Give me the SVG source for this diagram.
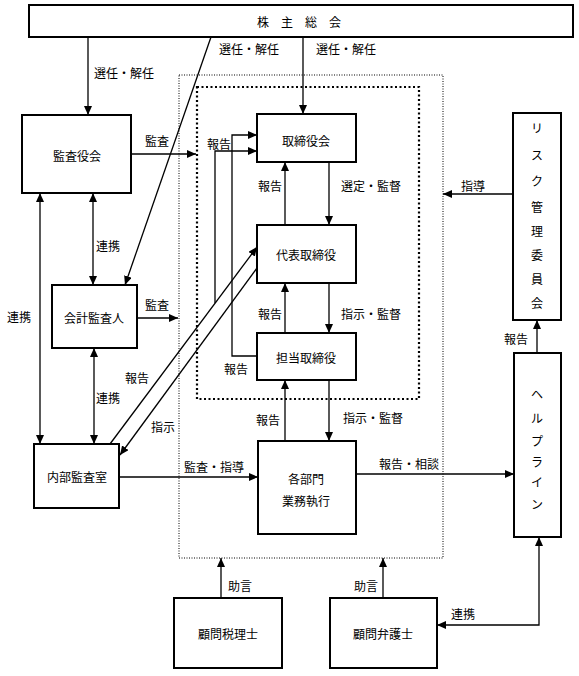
<svg xmlns="http://www.w3.org/2000/svg" width="579" height="676" viewBox="0 0 579 676">
<style>
  .box { fill: #fff; stroke: #000; stroke-width: 2; }
  .t { font-family: "Noto Sans CJK JP", "Noto Sans CJK SC", sans-serif; font-size: 12px; fill: #000; text-anchor: middle; dominant-baseline: central; }
  .c line, .c polyline { stroke: #000; stroke-width: 1.3; fill: none; }
  .a { marker-end: url(#ah); }
  .d { marker-start: url(#ahs); marker-end: url(#ah); }
</style>
<defs>
  <marker id="ah" markerUnits="userSpaceOnUse" markerWidth="10" markerHeight="8" refX="9" refY="4" orient="auto">
    <path d="M0,0 L9,4 L0,8 Z" fill="#000"/>
  </marker>
  <marker id="ahs" markerUnits="userSpaceOnUse" markerWidth="10" markerHeight="8" refX="9" refY="4" orient="auto-start-reverse">
    <path d="M0,0 L9,4 L0,8 Z" fill="#000"/>
  </marker>
</defs>
<rect width="579" height="676" fill="#fff"/>

<g id="scope">
  <rect x="179" y="75" width="264" height="483" fill="none" stroke="#000" stroke-width="1" stroke-dasharray="1,1.5"/>
  <rect x="197" y="87" width="222" height="312" fill="none" stroke="#000" stroke-width="2.2" stroke-dasharray="2,2.5"/>
</g>

<g class="c" id="connectors">
  <line class="a" x1="88" y1="37" x2="88" y2="115"/>
  <line class="a" x1="211" y1="37" x2="125" y2="285"/>
  <line class="a" x1="303" y1="37" x2="303" y2="114"/>
  <line class="a" x1="131" y1="154" x2="196" y2="154"/>
  <line class="d" x1="93" y1="193" x2="93" y2="285"/>
  <line class="a" x1="137" y1="318" x2="178" y2="318"/>
  <line class="d" x1="40" y1="193" x2="40" y2="444"/>
  <line class="d" x1="94" y1="348" x2="94" y2="444"/>
  <line class="a" x1="110" y1="444" x2="257" y2="247"/>
  <polyline class="a" points="215,303 215,151 257,151"/>
  <line class="a" x1="257" y1="268" x2="120" y2="455"/>
  <polyline class="a" points="257,356 232,356 232,135 257,135"/>
  <line class="a" x1="285" y1="225" x2="285" y2="162"/>
  <line class="a" x1="329" y1="162" x2="329" y2="225"/>
  <line class="a" x1="285" y1="333" x2="285" y2="283"/>
  <line class="a" x1="329" y1="283" x2="329" y2="333"/>
  <line class="a" x1="285" y1="441" x2="285" y2="380"/>
  <line class="a" x1="329" y1="380" x2="329" y2="441"/>
  <line class="a" x1="119" y1="477" x2="258" y2="477"/>
  <line class="a" x1="356" y1="474" x2="514" y2="474"/>
  <line class="a" x1="513" y1="194" x2="443" y2="194"/>
  <line class="a" x1="537" y1="353" x2="537" y2="320"/>
  <line class="a" x1="221" y1="598" x2="221" y2="558"/>
  <line class="a" x1="383" y1="598" x2="383" y2="558"/>
  <polyline class="d" points="539,537 539,625 437,625"/>
</g>

<g id="labels">
  <text class="t" x="124" y="72">選任・解任</text>
  <text class="t" x="249" y="48">選任・解任</text>
  <text class="t" x="346" y="48">選任・解任</text>
  <text class="t" x="157" y="140">監査</text>
  <text class="t" x="157" y="304">監査</text>
  <text class="t" x="108" y="245">連携</text>
  <text class="t" x="19" y="316">連携</text>
  <text class="t" x="108" y="397">連携</text>
  <text class="t" x="219" y="143">報告</text>
  <text class="t" x="236" y="368">報告</text>
  <text class="t" x="270" y="185">報告</text>
  <text class="t" x="270" y="313">報告</text>
  <text class="t" x="268" y="419">報告</text>
  <text class="t" x="137" y="377">報告</text>
  <text class="t" x="516" y="338">報告</text>
  <text class="t" x="163" y="426">指示</text>
  <text class="t" x="371" y="185">選定・監督</text>
  <text class="t" x="371" y="313">指示・監督</text>
  <text class="t" x="373" y="417">指示・監督</text>
  <text class="t" x="214" y="466">監査・指導</text>
  <text class="t" x="409" y="463">報告・相談</text>
  <text class="t" x="473" y="185">指導</text>
  <text class="t" x="240" y="585">助言</text>
  <text class="t" x="366" y="585">助言</text>
  <text class="t" x="463" y="613">連携</text>
</g>

<g id="shareholders">
  <rect class="box" x="29" y="5" width="544" height="32"/>
  <text class="t" x="305" y="21" letter-spacing="12">株主総会</text>
</g>
<g id="audit-board">
  <rect class="box" x="22" y="115" width="109" height="78"/>
  <text class="t" x="77" y="155">監査役会</text>
</g>
<g id="accounting-auditor">
  <rect class="box" x="52" y="285" width="85" height="63"/>
  <text class="t" x="94" y="317">会計監査人</text>
</g>
<g id="internal-audit">
  <rect class="box" x="34" y="444" width="85" height="64"/>
  <text class="t" x="77" y="476">内部監査室</text>
</g>
<g id="board">
  <rect class="box" x="257" y="114" width="99" height="48"/>
  <text class="t" x="306" y="140">取締役会</text>
</g>
<g id="representative">
  <rect class="box" x="257" y="225" width="99" height="58"/>
  <text class="t" x="306" y="254">代表取締役</text>
</g>
<g id="director">
  <rect class="box" x="257" y="333" width="99" height="47"/>
  <text class="t" x="306" y="357">担当取締役</text>
</g>
<g id="departments">
  <rect class="box" x="258" y="441" width="98" height="93"/>
  <text class="t" x="306" y="478">各部門</text>
  <text class="t" x="306" y="500">業務執行</text>
</g>
<g id="risk-committee">
  <rect class="box" x="513" y="113" width="48" height="207"/>
  <text class="t" x="537" y="127">リ</text>
  <text class="t" x="537" y="154">ス</text>
  <text class="t" x="537" y="180">ク</text>
  <text class="t" x="537" y="206">管</text>
  <text class="t" x="537" y="230">理</text>
  <text class="t" x="537" y="254">委</text>
  <text class="t" x="537" y="278">員</text>
  <text class="t" x="537" y="302">会</text>
</g>
<g id="helpline">
  <rect class="box" x="514" y="353" width="47" height="184"/>
  <text class="t" x="537" y="393">ヘ</text>
  <text class="t" x="537" y="417">ル</text>
  <text class="t" x="537" y="440">プ</text>
  <text class="t" x="537" y="461">ラ</text>
  <text class="t" x="537" y="481">イ</text>
  <text class="t" x="537" y="503">ン</text>
</g>
<g id="tax-advisor">
  <rect class="box" x="174" y="598" width="108" height="70"/>
  <text class="t" x="228" y="633">顧問税理士</text>
</g>
<g id="lawyer">
  <rect class="box" x="330" y="598" width="107" height="70"/>
  <text class="t" x="383" y="633">顧問弁護士</text>
</g>
</svg>
